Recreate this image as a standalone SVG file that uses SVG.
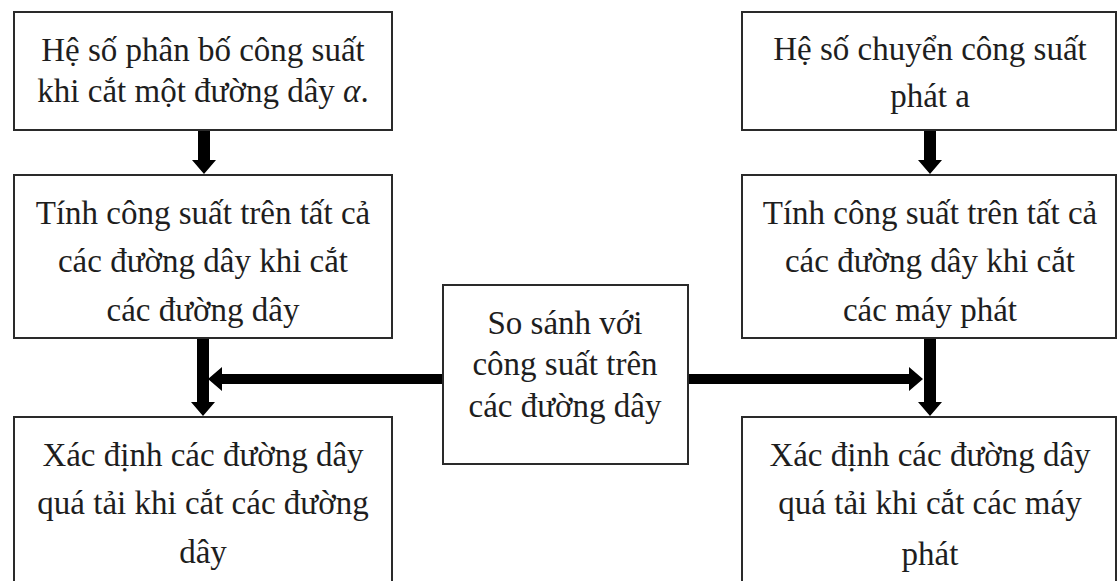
<svg xmlns="http://www.w3.org/2000/svg" width="1117" height="581" viewBox="0 0 1117 581">
<style>
.box{fill:#fff;stroke:#2a2a2a;stroke-width:2}
.t{font-family:"Liberation Serif","Times New Roman",serif;font-size:33px;fill:#1e1e1e;text-anchor:middle}
.ar{fill:#000}
</style>
<rect width="1117" height="581" fill="#fff"/>
<g id="connectors">
<path class="ar" d="M198 130 H210 V160 H216 L204 174 L192 160 H198 Z"/>
<path class="ar" d="M924 130 H936 V160 H942 L930 174 L918 160 H924 Z"/>
<path class="ar" d="M197 338 H209 V402 H215 L203 416 L191 402 H197 Z"/>
<path class="ar" d="M924 338 H936 V402 H942 L930 416 L918 402 H924 Z"/>
<path class="ar" d="M443 374 V384 H222 V391 L208 379 L222 367 V374 Z"/>
<path class="ar" d="M688 374 V384 H909 V391 L923 379 L909 367 V374 Z"/>
</g>
<g id="n1"><rect class="box" x="14" y="12" width="378" height="118"/>
<text class="t" x="203" y="61">Hệ số phân bố công suất</text>
<text class="t" x="203" y="102">khi cắt một đường dây <tspan font-style="italic">α</tspan>.</text></g>
<g id="n2"><rect class="box" x="14" y="175" width="378" height="163"/>
<text class="t" x="203" y="224">Tính công suất trên tất cả</text>
<text class="t" x="203" y="272">các đường dây khi cắt</text>
<text class="t" x="203" y="321">các đường dây</text></g>
<g id="n3"><rect class="box" x="14" y="417" width="378" height="175"/>
<text class="t" x="203" y="466">Xác định các đường dây</text>
<text class="t" x="203" y="514">quá tải khi cắt các đường</text>
<text class="t" x="203" y="563">dây</text></g>
<g id="n4"><rect class="box" x="443" y="285" width="245" height="179"/>
<text class="t" x="565" y="334">So sánh với</text>
<text class="t" x="565" y="375">công suất trên</text>
<text class="t" x="565" y="417">các đường dây</text></g>
<g id="n5"><rect class="box" x="742" y="12" width="374" height="118"/>
<text class="t" x="930" y="60">Hệ số chuyển công suất</text>
<text class="t" x="930" y="107">phát a</text></g>
<g id="n6"><rect class="box" x="742" y="175" width="374" height="163"/>
<text class="t" x="930" y="224">Tính công suất trên tất cả</text>
<text class="t" x="930" y="272">các đường dây khi cắt</text>
<text class="t" x="930" y="321">các máy phát</text></g>
<g id="n7"><rect class="box" x="742" y="417" width="374" height="175"/>
<text class="t" x="930" y="466">Xác định các đường dây</text>
<text class="t" x="930" y="514">quá tải khi cắt các máy</text>
<text class="t" x="930" y="565">phát</text></g>
</svg>
